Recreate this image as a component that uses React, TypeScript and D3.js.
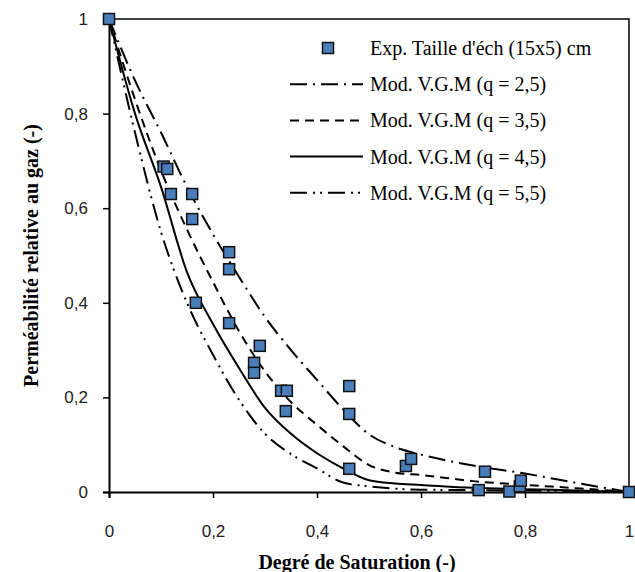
import * as d3 from "d3";
import { useRef, useEffect } from "react";

// experimental points (degree of saturation, relative gas permeability)
const expSat = [0, 0.105, 0.112, 0.119, 0.16, 0.16, 0.167, 0.231, 0.231, 0.231, 0.279, 0.279, 0.29, 0.331, 0.342, 0.34, 0.462, 0.462, 0.462, 0.571, 0.581, 0.711, 0.723, 0.77, 0.79, 0.792, 1];
const expKrg = [1, 0.688, 0.683, 0.63, 0.63, 0.577, 0.4, 0.507, 0.471, 0.357, 0.273, 0.252, 0.309, 0.214, 0.214, 0.171, 0.224, 0.165, 0.049, 0.055, 0.07, 0.004, 0.043, 0.001, 0.012, 0.024, 0];

// model curves (V.G.M) sampled on this saturation grid
const modSat = [0, 0.05, 0.1, 0.15, 0.2, 0.25, 0.3, 0.35, 0.4, 0.45, 0.5, 0.55, 0.6, 0.7, 0.8, 0.9, 1];
const krgQ25 = [1, 0.87, 0.76, 0.645, 0.545, 0.455, 0.37, 0.3, 0.237, 0.175, 0.122, 0.095, 0.079, 0.056, 0.039, 0.019, 0];
const krgQ35 = [1, 0.83, 0.68, 0.555, 0.444, 0.34, 0.255, 0.19, 0.142, 0.097, 0.057, 0.041, 0.036, 0.023, 0.015, 0.008, 0];
const krgQ45 = [1, 0.8, 0.645, 0.465, 0.355, 0.262, 0.178, 0.123, 0.082, 0.05, 0.025, 0.018, 0.015, 0.009, 0.006, 0.003, 0];
const krgQ55 = [1, 0.76, 0.55, 0.4, 0.29, 0.195, 0.123, 0.08, 0.05, 0.02, 0.012, 0.007, 0.005, 0.004, 0.003, 0.002, 0];

const models = [
  { name: "Mod. V.G.M (q = 2,5)", values: krgQ25, dash: "17,6,2,6" },
  { name: "Mod. V.G.M (q = 3,5)", values: krgQ35, dash: "9,6" },
  { name: "Mod. V.G.M (q = 4,5)", values: krgQ45, dash: null },
  { name: "Mod. V.G.M (q = 5,5)", values: krgQ55, dash: "17,6,2,5,2,6" },
];
const expName = "Exp. Taille d'éch (15x5) cm";

const xTicks = [0, 0.2, 0.4, 0.6, 0.8, 1];
const yTicks = [0, 0.2, 0.4, 0.6, 0.8, 1];

const W = 635, H = 572;
const left = 109, right = 629, top = 19, bottom = 492;
const BLUE = "#4a7ebb";

export default function App() {
  const svgRef = useRef(null);

  useEffect(() => {
    const svg = d3.select(svgRef.current);
    svg.selectAll("*").remove();

    const x = d3.scaleLinear().domain([0, 1]).range([left, right]);
    const y = d3.scaleLinear().domain([0, 1]).range([bottom, top]);
    const fmt = (d) => String(d).replace(".", ",");

    // frame (top + right)
    svg.append("path")
      .attr("d", `M${left},${top}H${right}V${bottom}`)
      .attr("fill", "none").attr("stroke", "#000").attr("stroke-width", 1.5);

    const xAxis = svg.append("g")
      .attr("transform", `translate(0,${bottom})`)
      .call(d3.axisBottom(x).tickValues(xTicks).tickFormat(fmt).tickSize(6).tickPadding(27));
    const yAxis = svg.append("g")
      .attr("transform", `translate(${left},0)`)
      .call(d3.axisLeft(y).tickValues(yTicks).tickFormat(fmt).tickSize(6).tickPadding(15));
    [xAxis, yAxis].forEach((g) => {
      g.select(".domain").attr("stroke-width", 2);
      g.selectAll(".tick line").attr("stroke-width", 1.5);
      g.selectAll("text").attr("font-family", "Liberation Sans, sans-serif").attr("font-size", 17).attr("fill", "#222");
    });

    // model lines
    const line = d3.line().x((d) => x(d[0])).y((d) => y(d[1])).curve(d3.curveMonotoneX);
    models.forEach((m) => {
      svg.append("path")
        .attr("d", line(modSat.map((s, i) => [s, m.values[i]])))
        .attr("fill", "none").attr("stroke", "#000").attr("stroke-width", 2)
        .attr("stroke-dasharray", m.dash);
    });

    // experimental squares
    const sq = 11;
    svg.append("g").selectAll("rect")
      .data(expSat.map((s, i) => [s, expKrg[i]]))
      .enter()
      .append("rect")
      .attr("x", (d) => x(d[0]) - sq / 2)
      .attr("y", (d) => y(d[1]) - sq / 2)
      .attr("width", sq).attr("height", sq)
      .attr("fill", BLUE).attr("stroke", "#111").attr("stroke-width", 1.5);

    // legend
    const lg = svg.append("g").attr("font-family", "Liberation Serif, serif").attr("font-size", 20);
    const rowY = (i) => 48 + i * 36.2;
    lg.append("rect").attr("x", 328 - sq / 2).attr("y", rowY(0) - sq / 2).attr("width", sq).attr("height", sq)
      .attr("fill", BLUE).attr("stroke", "#111").attr("stroke-width", 1.5);
    lg.append("text").attr("x", 370).attr("y", rowY(0)).attr("dy", "0.35em").text(expName);
    models.forEach((m, i) => {
      const yy = rowY(i + 1);
      lg.append("line").attr("x1", 290).attr("x2", 363).attr("y1", yy).attr("y2", yy)
        .attr("stroke", "#000").attr("stroke-width", 2).attr("stroke-dasharray", m.dash);
      lg.append("text").attr("x", 370).attr("y", yy).attr("dy", "0.35em").text(m.name);
    });

    // axis titles
    svg.append("text")
      .attr("x", 357).attr("y", 569)
      .attr("text-anchor", "middle")
      .attr("font-family", "Liberation Serif, serif").attr("font-weight", "bold").attr("font-size", 20)
      .text("Degré de Saturation (-)");
    svg.append("text")
      .attr("transform", `translate(38,${(top + bottom) / 2}) rotate(-90)`)
      .attr("text-anchor", "middle")
      .attr("font-family", "Liberation Serif, serif").attr("font-weight", "bold").attr("font-size", 20)
      .text("Perméabilité relative au gaz (-)");
  }, []);

  return (
    <svg ref={svgRef} width={W} height={H}
      style={{ position: "absolute", left: 0, top: 0, background: "#fff" }} />
  );
}
